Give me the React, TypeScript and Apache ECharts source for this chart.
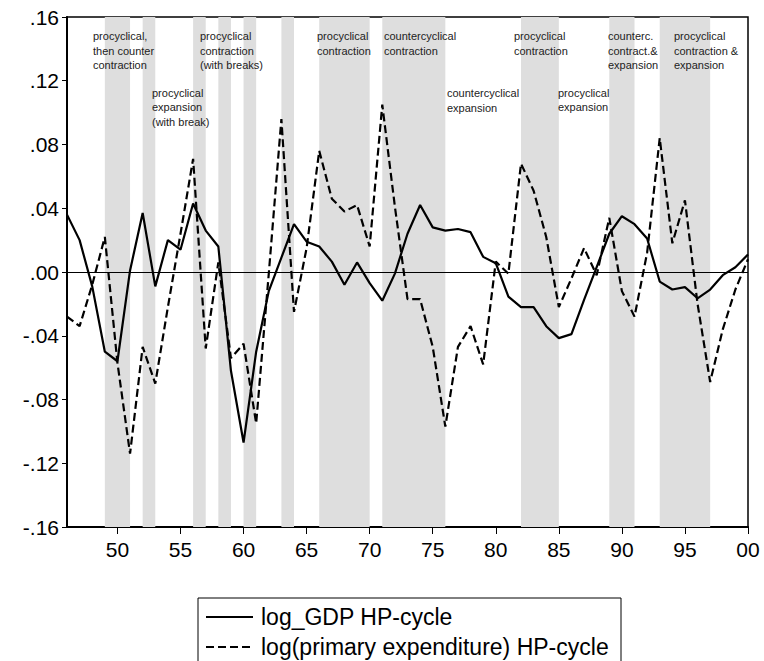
import React, { useEffect, useRef } from "react";
import * as echarts from "echarts";

const years: number[] = [];
for (let y = 1946; y <= 2000; y++) years.push(y);

const gdpCycle = [
  0.036, 0.020, -0.009, -0.050, -0.056, 0.001, 0.037, -0.009, 0.020, 0.014,
  0.043, 0.026, 0.016, -0.062, -0.107, -0.050, -0.012, 0.009, 0.030, 0.019,
  0.016, 0.0065, -0.008, 0.006, -0.007, -0.018, -0.001, 0.024, 0.042, 0.028,
  0.026, 0.027, 0.025, 0.0095, 0.0055, -0.0155, -0.022, -0.022, -0.034, -0.0415,
  -0.039, -0.0175, 0.003, 0.024, 0.035, 0.030, 0.021, -0.006, -0.011, -0.0095,
  -0.0165, -0.011, -0.002, 0.003, 0.011,
];

const expCycle = [
  -0.028, -0.034, -0.008, 0.022, -0.057, -0.114, -0.047, -0.070, -0.022, 0.024,
  0.071, -0.048, 0.006, -0.054, -0.045, -0.095, -0.001, 0.096, -0.025, 0.015,
  0.076, 0.046, 0.038, 0.042, 0.016, 0.105, 0.041, -0.017, -0.017, -0.047,
  -0.097, -0.047, -0.034, -0.058, 0.0065, -0.001, 0.068, 0.051, 0.022, -0.022,
  -0.004, 0.015, -0.002, 0.034, -0.012, -0.028, 0.012, 0.084, 0.018, 0.045,
  -0.020, -0.069, -0.036, -0.011, 0.008,
];

const shadedPeriods: [number, number][] = [
  [1949, 1951], [1952, 1953], [1956, 1957], [1958, 1959], [1960, 1961],
  [1963, 1964], [1966, 1970], [1971, 1976], [1982, 1985], [1989, 1991],
  [1993, 1997],
];

const xTickValues = [1950, 1955, 1960, 1965, 1970, 1975, 1980, 1985, 1990, 1995, 2000];

const seriesNames = ["log_GDP HP-cycle", "log(primary expenditure) HP-cycle"];

const annotations: { text: string; x: number; y: number }[] = [
  { text: "procyclical,\nthen counter\ncontraction", x: 93, y: 29 },
  { text: "procyclical\nexpansion\n(with break)", x: 152, y: 85.5 },
  { text: "procyclical\ncontraction\n(with breaks)", x: 200, y: 29 },
  { text: "procyclical\ncontraction", x: 317, y: 29 },
  { text: "countercyclical\ncontraction", x: 384, y: 29 },
  { text: "countercyclical\nexpansion", x: 447, y: 86 },
  { text: "procyclical\ncontraction", x: 514, y: 29 },
  { text: "procyclical\nexpansion", x: 558, y: 85.5 },
  { text: "counterc.\ncontract.&\nexpansion", x: 608, y: 29 },
  { text: "procyclical\ncontraction &\nexpansion", x: 674, y: 29 },
];

const FONT = "'Liberation Sans', Arial, Helvetica, sans-serif";

function fmtY(v: number): string {
  const r = Math.round(v * 100) / 100;
  const s = Math.abs(r).toFixed(2).replace(/^0/, "");
  return (r < 0 ? "-" : "") + s;
}

export default function App() {
  const ref = useRef<HTMLDivElement>(null);
  useEffect(() => {
    if (!ref.current) return;
    const chart = echarts.init(ref.current, null, { renderer: "svg" });
    const gdpData = years.map((y, i) => [y, gdpCycle[i]]);
    const expData = years.map((y, i) => [y, expCycle[i]]);

    const annotationEls = annotations.map((a) => ({
      type: "text",
      x: a.x,
      y: a.y,
      z: 100,
      silent: true,
      style: {
        text: a.text,
        fill: "#222",
        font: `11px ${FONT}`,
        lineHeight: 14.5,
        textVerticalAlign: "top",
      },
    }));

    const legendEls = [
      {
        type: "rect",
        z: 100,
        shape: { x: 198, y: 598, width: 423, height: 90 },
        style: { fill: "#fff", stroke: "#000", lineWidth: 1 },
        silent: true,
      },
      {
        type: "line",
        z: 101,
        shape: { x1: 206, y1: 617, x2: 253, y2: 617 },
        style: { stroke: "#000", lineWidth: 2 },
        silent: true,
      },
      {
        type: "line",
        z: 101,
        shape: { x1: 206, y1: 647, x2: 253, y2: 647 },
        style: { stroke: "#000", lineWidth: 2, lineDash: [8, 4] },
        silent: true,
      },
      {
        type: "text",
        z: 101,
        x: 261,
        y: 617,
        style: {
          text: seriesNames[0],
          fill: "#000",
          font: `23px ${FONT}`,
          textVerticalAlign: "middle",
        },
        silent: true,
      },
      {
        type: "text",
        z: 101,
        x: 261,
        y: 647,
        style: {
          text: seriesNames[1],
          fill: "#000",
          font: `23px ${FONT}`,
          textVerticalAlign: "middle",
        },
        silent: true,
      },
    ];

    chart.setOption({
      animation: false,
      grid: {
        left: 67,
        right: 16,
        top: 17,
        bottom: 134,
        show: true,
        borderColor: "#000",
        borderWidth: 1.5,
        backgroundColor: "transparent",
        outerBoundsMode: "none",
      },
      xAxis: {
        type: "value",
        min: 1946,
        max: 2000,
        axisLine: { show: true, onZero: false, lineStyle: { color: "#000", width: 2 } },
        axisTick: {
          show: true,
          customValues: xTickValues,
          length: 7,
          lineStyle: { color: "#000", width: 1 },
        },
        axisLabel: {
          customValues: xTickValues,
          formatter: (v: number) => String(v % 100).padStart(2, "0"),
          fontSize: 21,
          fontFamily: FONT,
          color: "#000",
          margin: 12,
        },
        splitLine: { show: false },
      },
      yAxis: {
        type: "value",
        min: -0.16,
        max: 0.16,
        interval: 0.04,
        axisLine: { show: true, onZero: false, lineStyle: { color: "#000", width: 2 } },
        axisTick: { show: true, length: 5, lineStyle: { color: "#000", width: 1 } },
        axisLabel: {
          formatter: fmtY,
          fontSize: 21,
          fontFamily: FONT,
          color: "#000",
          margin: 8,
        },
        splitLine: { show: false },
      },
      series: [
        {
          name: "bands",
          type: "line",
          data: gdpData,
          symbol: "none",
          silent: true,
          z: 1,
          lineStyle: { opacity: 0 },
          markArea: {
            silent: true,
            itemStyle: { color: "#dedede" },
            label: { show: false },
            data: shadedPeriods.map(([a, b]) => [{ xAxis: a }, { xAxis: b }]),
          },
        },
        {
          name: seriesNames[1],
          type: "line",
          data: expData,
          symbol: "none",
          z: 3,
          lineStyle: { color: "#000", width: 2.2, type: [8, 4] },
        },
        {
          name: seriesNames[0],
          type: "line",
          data: gdpData,
          symbol: "none",
          z: 4,
          lineStyle: { color: "#000", width: 2.2 },
          markLine: {
            silent: true,
            symbol: "none",
            label: { show: false },
            lineStyle: { color: "#000", width: 1, type: "solid" },
            data: [{ yAxis: 0 }],
          },
        },
      ],
      graphic: [...annotationEls, ...legendEls],
    });
    return () => chart.dispose();
  }, []);
  return (
    <div
      ref={ref}
      style={{ position: "absolute", left: 0, top: 0, width: 764, height: 661 }}
    />
  );
}
